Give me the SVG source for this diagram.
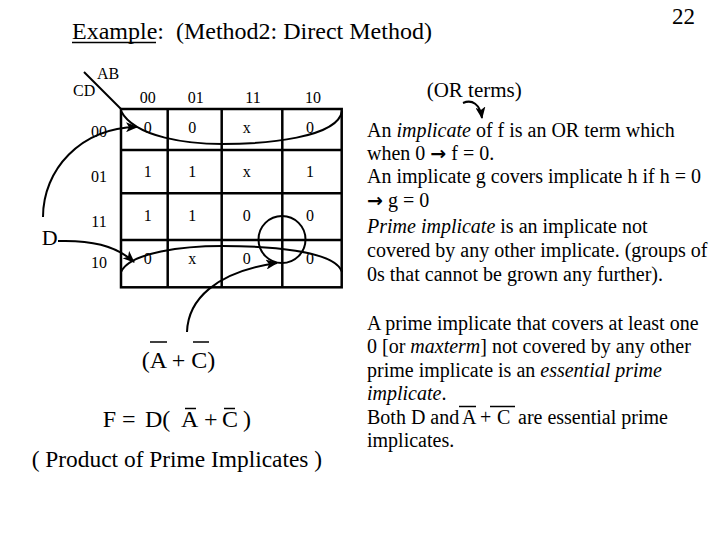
<svg xmlns="http://www.w3.org/2000/svg" width="720" height="540" viewBox="0 0 720 540">
<style>
text{font-family:"Liberation Serif","Times New Roman",serif;fill:#000}
.t16{font-size:16px}
.t20{font-size:20px}
.mid{text-anchor:middle}
.grid{stroke:#000;stroke-width:2.5;fill:none}
.curve{stroke:#000;stroke-width:2;fill:none}
.bar{stroke:#000;stroke-width:1.5}
.it{font-style:italic}
.arr{font-family:"DejaVu Sans",sans-serif;font-size:19px;font-weight:bold}
</style>
<defs>
<marker id="ah" markerUnits="userSpaceOnUse" markerWidth="12" markerHeight="10" refX="11" refY="5" orient="auto">
<path d="M0,0 L12,5 L0,10 L3,5 z" fill="#000"/>
</marker>
</defs>
<rect width="720" height="540" fill="#fff"/>

<g id="title">
<text x="72" y="39" style="font-size:24px;white-space:pre">Example:  (Method2: Direct Method)</text>
<line x1="72" y1="42.5" x2="156" y2="42.5" stroke="#000" stroke-width="1.3"/>
</g>
<g id="page-number"><text x="672" y="23.5" style="font-size:23px">22</text></g>

<g id="kmap">
<line class="grid" x1="84" y1="72" x2="121" y2="109" style="stroke-width:2"/>
<text class="t16" x="97" y="79">AB</text>
<text class="t16" x="73" y="96">CD</text>
<g class="grid">
<rect x="121" y="109" width="220.7" height="178.3"/>
<line x1="167.7" y1="109" x2="167.7" y2="287.3"/>
<line x1="221.7" y1="109" x2="221.7" y2="287.3"/>
<line x1="282.3" y1="109" x2="282.3" y2="287.3"/>
<line x1="121" y1="150" x2="341.7" y2="150"/>
<line x1="121" y1="193.3" x2="341.7" y2="193.3"/>
<line x1="121" y1="240" x2="341.7" y2="240"/>
</g>
<g class="t16 mid">
<text x="147.7" y="103">00</text>
<text x="195.7" y="103">01</text>
<text x="253" y="103">11</text>
<text x="313" y="103">10</text>
<text x="99" y="137">00</text>
<text x="99" y="182">01</text>
<text x="99" y="226.7">11</text>
<text x="99" y="268">10</text>
<text x="147.7" y="133">0</text><text x="192.3" y="133">0</text><text x="246.7" y="133">x</text><text x="310" y="133">0</text>
<text x="147.7" y="176.7">1</text><text x="192.3" y="176.7">1</text><text x="246.7" y="176.7">x</text><text x="310" y="176.7">1</text>
<text x="147.7" y="220.7">1</text><text x="192.3" y="220.7">1</text><text x="246.7" y="220.7">0</text><text x="310" y="220.7">0</text>
<text x="147.7" y="264">0</text><text x="192.3" y="264">x</text><text x="246.7" y="264">0</text><text x="310" y="264">0</text>
</g>
</g>

<g id="groups">
<path class="curve" d="M121,111 C135,138 190,144 222,144 C265,144 338,138 342,111"/>
<path class="curve" d="M121,272 C130,252 185,246 222,246 C265,246 335,250 342,272"/>
<circle class="curve" cx="282" cy="239.5" r="23.5"/>
</g>

<g id="D-label"><text x="41.7" y="245" style="font-size:22px">D</text></g>

<g id="connectors">
<path class="curve" d="M43,217 C43,170 80,128 137,127" marker-end="url(#ah)"/>
<path class="curve" d="M58,241 C90,240 115,245 134,262" marker-end="url(#ah)"/>
<path class="curve" d="M187,332 C188,300 215,272 277,263" marker-end="url(#ah)"/>
<path class="curve" d="M463,103 C472,99 480,104 482,118" marker-end="url(#ah)"/>
</g>

<g id="AC-label">
<text x="141.7" y="368" style="font-size:24px;white-space:pre">(A + C)</text>
<line class="bar" x1="150" y1="342" x2="167" y2="342"/>
<line class="bar" x1="193" y1="342" x2="209" y2="342"/>
</g>

<g id="formula">
<text y="427" style="font-size:24px"><tspan x="102.7">F =</tspan><tspan x="145">D(</tspan><tspan x="181">A</tspan><tspan x="204">+</tspan><tspan x="222">C</tspan><tspan x="243">)</tspan></text>
<line class="bar" x1="185" y1="408.5" x2="196" y2="408.5"/>
<line class="bar" x1="224" y1="408.5" x2="235" y2="408.5"/>
<text x="31.7" y="467" style="font-size:23.4px">( Product of Prime Implicates )</text>
</g>

<g id="definitions" class="t20">
<text x="426.7" y="97" style="font-size:21px">(OR terms)</text>
<text x="367" y="137">An <tspan class="it">implicate</tspan> of f is an OR term which</text>
<text x="367" y="160">when 0 <tspan class="arr">→</tspan> f = 0.</text>
<text x="367" y="183">An implicate g covers implicate h if h = 0</text>
<text x="367" y="207"><tspan class="arr">→</tspan> g = 0</text>
<text x="367" y="233"><tspan class="it">Prime implicate</tspan> is an implicate not</text>
<text x="367" y="257">covered by any other implicate. (groups of</text>
<text x="367" y="281">0s that cannot be grown any further).</text>
</g>

<g id="essential" class="t20">
<text x="367" y="330">A prime implicate that covers at least one</text>
<text x="367" y="353">0 [or <tspan class="it">maxterm</tspan>] not covered by any other</text>
<text x="367" y="377">prime implicate is an <tspan class="it">essential prime</tspan></text>
<text x="367" y="400"><tspan class="it">implicate</tspan>.</text>
<text y="424"><tspan x="367">Both D and</tspan><tspan x="462">A</tspan><tspan x="480">+</tspan><tspan x="497">C</tspan><tspan x="518">are essential prime</tspan></text>
<text x="367" y="447">implicates.</text>
<line class="bar" x1="459" y1="406.5" x2="476" y2="406.5"/>
<line class="bar" x1="490" y1="406.5" x2="515" y2="406.5"/>
</g>
</svg>
